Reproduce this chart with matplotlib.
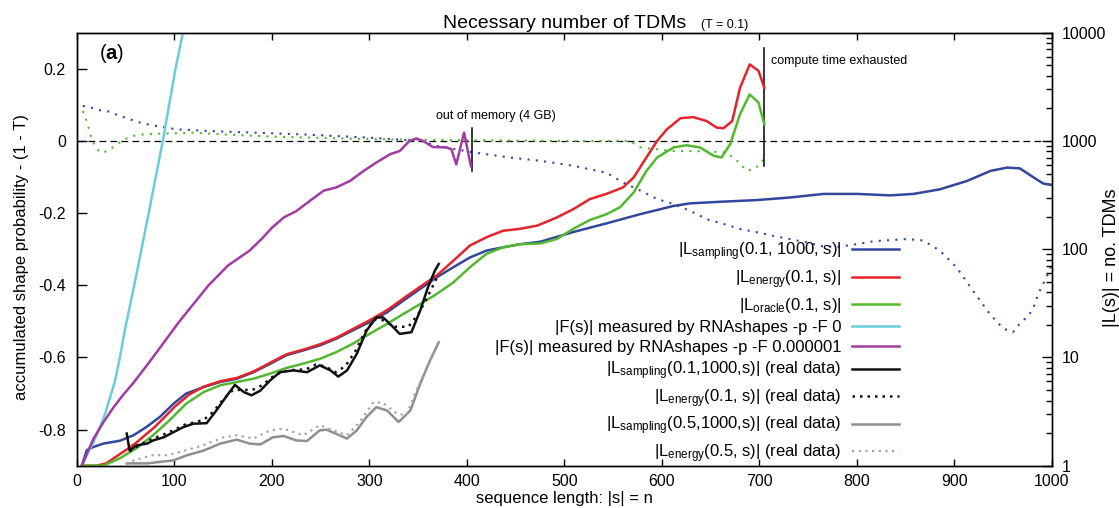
import matplotlib.pyplot as plt
from matplotlib import ticker

plt.rcParams['font.family'] = ['Liberation Sans', 'DejaVu Sans']
plt.rcParams['mathtext.fontset'] = 'custom'
plt.rcParams['mathtext.rm'] = 'Liberation Sans'
plt.rcParams['mathtext.it'] = 'Liberation Sans:italic'
plt.rcParams['mathtext.bf'] = 'Liberation Sans:bold'

# |L_sampling(0.1, 1000, s)|
samp_n = [5, 10, 17, 27, 44, 58, 71, 85, 99, 112, 130, 147, 164, 181, 198, 215, 232, 249, 266, 283,
          300, 318, 335, 352, 369, 386, 403, 420, 437, 454, 475, 509, 543, 578, 612, 629, 663, 697, 731, 766,
          800, 834, 858, 885, 913, 937, 954, 967, 981, 991, 1000]
samp_tdm = [1, 1.39, 1.49, 1.60, 1.70, 1.91, 2.27, 2.82, 3.74, 4.64, 5.33, 5.93, 6.36, 7.30, 8.71, 10.5, 11.6, 12.9, 14.9, 17.8,
            21.2, 26.1, 33.6, 43.0, 55.0, 68.1, 83.8, 97.0, 104, 111, 117, 144, 173, 211, 251, 265, 275, 284, 300, 324,
            324, 314, 324, 357, 427, 529, 567, 558, 461, 404, 392]

# |L_energy(0.1, s)|
energy_n = [5, 20, 30, 40, 50, 60, 70, 80, 90, 100, 115, 130, 147, 164, 181, 198, 215, 232, 249, 266,
            283, 300, 318, 335, 352, 369, 386, 403, 420, 437, 454, 472, 492, 509, 526, 543, 560, 571, 584, 595,
            605, 619, 632, 646, 656, 663, 672, 680, 690, 699, 705]
energy_tdm = [1, 1, 1.05, 1.21, 1.39, 1.61, 1.92, 2.29, 2.82, 3.49, 4.54, 5.37, 6.03, 6.46, 7.41, 8.91, 10.7, 11.8, 13.2, 15.2,
              18.3, 22.0, 27.3, 35.2, 45.0, 57.1, 78.2, 108, 129, 148, 154, 165, 196, 234, 290, 324, 372, 460, 703, 1000,
              1279, 1622, 1660, 1524, 1328, 1308, 1524, 3090, 5093, 4436, 3090]

# |L_oracle(0.1, s)|
oracle_n = [5, 27, 44, 61, 78, 95, 112, 130, 147, 164, 181, 198, 215, 232, 249, 266, 283, 300, 318, 335,
            352, 369, 386, 403, 420, 437, 454, 475, 492, 509, 526, 543, 557, 571, 584, 595, 612, 625, 639, 653,
            661, 670, 680, 690, 699, 705]
oracle_tdm = [1, 1, 1.17, 1.45, 1.91, 2.63, 3.74, 4.79, 5.53, 5.93, 6.36, 7.08, 8.00, 8.77, 9.70, 11.2, 13.4, 16.5, 20.4, 25.3,
              31.1, 38.6, 49.3, 68.1, 90.6, 104, 111, 113, 124, 154, 186, 210, 244, 334, 528, 703, 871, 912, 871, 730,
              703, 933, 1766, 2692, 2256, 1423]

# |F(s)| from RNAshapes -p -F 0
f0_n = [5, 12, 17, 24, 29, 34, 39, 44, 49, 61, 75, 88, 101, 109, 120]
f0_tdm = [1, 1.36, 1.65, 2.33, 3.04, 4.30, 6.07, 10.0, 17.7, 58.5, 251, 1000, 4640, 10300, 34100]

# |F(s)| from RNAshapes -p -F 0.000001
f6_n = [5, 12, 17, 27, 37, 47, 58, 75, 90, 105, 120, 135, 155, 177, 190, 200, 212, 225, 239, 253,
        266, 280, 294, 307, 321, 331, 341, 348, 355, 365, 379, 384, 389, 397, 404]
f6_tdm = [1, 1.41, 1.78, 2.51, 3.41, 4.47, 5.84, 9.26, 14.1, 21.5, 31.6, 46.4, 70.8, 97.0, 126, 158, 196, 225, 280, 347,
          372, 427, 528, 631, 753, 807, 1000, 1055, 1000, 878, 871, 838, 607, 1194, 584]

# real data, T = 0.1
real_samp_n = [51, 54, 61, 72, 78, 89, 99, 109, 119, 133, 143, 154, 162, 171, 179, 188, 198, 208, 222, 236,
               249, 260, 268, 277, 287, 297, 307, 314, 321, 331, 343, 352, 360, 367, 371]
real_samp_tdm = [1.98, 1.38, 1.54, 1.60, 1.71, 1.83, 2.04, 2.27, 2.44, 2.47, 3.24, 4.47, 5.58, 4.79, 4.47, 4.93, 6.12, 7.30, 7.59, 7.30,
                 8.45, 7.59, 6.65, 7.59, 10.8, 17.7, 23.4, 23.4, 20.4, 16.5, 17.1, 27.1, 44.4, 63.1, 73.0]
real_energy_n = [54, 60, 70, 80, 90, 100, 110, 120, 130, 140, 150, 160, 170, 180, 190, 200, 210, 220, 235, 245,
                 255, 265, 275, 285, 295, 305, 315, 325, 340, 350, 360, 369]
real_energy_tdm = [1.36, 1.47, 1.65, 1.81, 1.96, 2.15, 2.38, 2.51, 2.65, 3.16, 4.10, 5.01, 5.01, 5.01, 5.53, 6.56, 7.36, 7.64, 7.76, 8.58,
                   8.26, 7.30, 8.26, 11.2, 17.1, 22.4, 22.0, 19.2, 19.2, 25.1, 36.9, 54.1]

# real data, T = 0.5
real_samp05_n = [51, 72, 99, 113, 130, 147, 164, 177, 188, 201, 212, 225, 236, 249, 256, 277, 287, 297, 307, 318,
                 330, 342, 352, 362, 371]
real_samp05_tdm = [1.05, 1.05, 1.12, 1.25, 1.38, 1.60, 1.74, 1.60, 1.57, 1.83, 1.88, 1.71, 1.69, 2.12, 2.15, 1.78, 2.12, 2.82, 3.47, 3.24,
                   2.53, 3.24, 5.71, 9.33, 13.8]
real_energy05_n = [51, 58, 78, 92, 106, 130, 150, 164, 181, 198, 212, 232, 249, 263, 277, 290, 304, 314, 328, 338,
                   348, 359, 369]
real_energy05_tdm = [1.02, 1.12, 1.25, 1.25, 1.34, 1.55, 1.82, 1.91, 1.78, 2.12, 2.20, 1.91, 2.36, 2.12, 1.91, 2.53, 3.86, 3.80, 3.02, 2.93,
                     4.98, 8.13, 12.5]

# accumulated shape probability - (1 - T)
samp_acc_n = [6, 15, 24, 34, 42, 51, 60, 68, 78, 92, 102, 119, 130, 232, 300, 352, 369, 407, 444, 475,
              509, 543, 560, 578, 595, 612, 629, 646, 663, 680, 697, 714, 731, 748, 766, 783, 800, 817, 834, 851,
              868, 885, 902, 919, 936, 950, 960, 967, 976, 981, 986, 991, 996, 1000]
samp_acc = [0.097, 0.092, 0.085, 0.081, 0.071, 0.063, 0.055, 0.048, 0.043, 0.037, 0.032, 0.030, 0.028, 0.018, 0.009, 0.0, -0.014, -0.032, -0.046, -0.055,
            -0.069, -0.088, -0.115, -0.138, -0.161, -0.175, -0.194, -0.217, -0.230, -0.244, -0.253, -0.263, -0.272, -0.281, -0.293, -0.293, -0.286, -0.278, -0.275, -0.272,
            -0.276, -0.304, -0.350, -0.415, -0.479, -0.52, -0.530, -0.506, -0.484, -0.462, -0.423, -0.396, -0.368, -0.34]
oracle_acc_n = [6, 11, 15, 20, 26, 34, 41, 49, 58, 68, 82, 99, 119, 150, 200, 300, 400, 500, 567, 578,
                595, 612, 629, 646, 666, 677, 687, 694, 701, 705]
oracle_acc = [0.083, 0.046, 0.005, -0.022, -0.034, -0.023, -0.009, 0.005, 0.014, 0.018, 0.020, 0.021, 0.023, 0.018, 0.012, 0.005, 0.002, 0.0, 0.0, -0.018,
              -0.023, -0.028, -0.028, -0.029, -0.032, -0.055, -0.083, -0.078, -0.065, -0.046]

# where the runs stopped
oom_n, oom_span = 405, (0.037, -0.083)
cte_n, cte_span = 705, (0.258, -0.069)

BLUE = '#32479c'
RED = '#e4232a'
GREEN = '#52b82f'
CYAN = '#6ccbdc'
PURPLE = '#a23ba3'
GREY = '#8f8f8f'

fig = plt.figure(figsize=(11.19, 5.08), dpi=100)
ax = fig.add_axes([0.0688, 0.0833, 0.8713, 0.8524])
ax2 = ax.twinx()

# left axis: probabilities, threshold line at 0
ax.axhline(0, color='black', lw=0.9, ls=(0, (5.4, 3.4)))
ax.plot(samp_acc_n, samp_acc, color=BLUE, lw=1.5, ls=(0, (1, 3)))
ax.plot(oracle_acc_n, oracle_acc, color=GREEN, lw=1.5, ls=(0, (1, 3)))
ax.plot([oom_n, oom_n], oom_span, color='black', lw=1.1)
ax.plot([cte_n, cte_n], cte_span, color='black', lw=1.1)
ax.text(430, 0.069, 'out of memory (4 GB)', fontsize=9, ha='center', va='center')
ax.text(712, 0.221, 'compute time exhausted', fontsize=9, ha='left', va='center')
ax.text(0.0229, 0.952, r'($\mathbf{a}$)', transform=ax.transAxes, fontsize=14.5, ha='left', va='center')

# right axis: number of TDMs
lw = 1.8
ax2.plot(samp_n, samp_tdm, color=BLUE, lw=lw, label=r'|L$_{\mathrm{sampling}}$(0.1, 1000, s)|')
ax2.plot(energy_n, energy_tdm, color=RED, lw=lw, label=r'|L$_{\mathrm{energy}}$(0.1, s)|')
ax2.plot(oracle_n, oracle_tdm, color=GREEN, lw=lw, label=r'|L$_{\mathrm{oracle}}$(0.1, s)|')
ax2.plot(f0_n, f0_tdm, color=CYAN, lw=lw, label='|F(s)| measured by RNAshapes -p -F 0')
ax2.plot(f6_n, f6_tdm, color=PURPLE, lw=lw, label='|F(s)| measured by RNAshapes -p -F 0.000001')
ax2.plot(real_samp_n, real_samp_tdm, color='#111111', lw=lw,
         label=r'|L$_{\mathrm{sampling}}$(0.1,1000,s)| (real data)')
ax2.plot(real_energy_n, real_energy_tdm, color='#111111', lw=1.8, ls=(0, (1, 2)),
         label=r'|L$_{\mathrm{energy}}$(0.1, s)| (real data)')
ax2.plot(real_samp05_n, real_samp05_tdm, color=GREY, lw=lw,
         label=r'|L$_{\mathrm{sampling}}$(0.5,1000,s)| (real data)')
ax2.plot(real_energy05_n, real_energy05_tdm, color='#a5a5a5', lw=1.6, ls=(0, (1, 2)),
         label=r'|L$_{\mathrm{energy}}$(0.5, s)| (real data)')

ax.set_xlim(0, 1000)
ax.set_ylim(-0.9, 0.3)
ax2.set_yscale('log')
ax2.set_ylim(1, 10000)

ax.set_xticks(range(0, 1001, 100))
ax.set_yticks([-0.8, -0.6, -0.4, -0.2, 0, 0.2])
ax.yaxis.set_major_formatter(ticker.FuncFormatter(lambda v, p: f'{v:g}'))
ax.tick_params(axis='x', direction='in', top=True, length=5, width=1, labelsize=11.5, pad=6)
ax.tick_params(axis='y', direction='in', right=False, length=7, width=1, labelsize=11.5, pad=8)
ax2.yaxis.set_major_locator(ticker.LogLocator(base=10))
ax2.yaxis.set_minor_locator(ticker.LogLocator(base=10, subs=range(2, 10)))
ax2.yaxis.set_minor_formatter(ticker.NullFormatter())
ax2.yaxis.set_major_formatter(ticker.FuncFormatter(lambda v, p: f'{v:g}'))
ax2.tick_params(axis='y', which='major', direction='in', length=7, width=1, labelsize=11.5, pad=7)
ax2.tick_params(axis='y', which='minor', direction='in', length=4, width=1)
for a in (ax, ax2):
    for s in a.spines.values():
        s.set_linewidth(1.0)

ax.text(-0.0569, 0.482, 'accumulated shape probability - (1 - T)', transform=ax.transAxes,
        rotation=90, ha='center', va='center', fontsize=12)
ax.text(1.0615, 0.48, '|L(s)| = no. TDMs', transform=ax.transAxes,
        rotation=90, ha='center', va='center', fontsize=13)
ax.text(0.5, -0.059, 'sequence length: |s| = n', transform=ax.transAxes,
        ha='center', va='top', fontsize=12)

fig.text(0.5045, 0.9443, 'Necessary number of TDMs', ha='center', va='baseline', fontsize=14)
fig.text(0.6265, 0.9443, '(T = 0.1)', ha='left', va='baseline', fontsize=9)

ax2.legend(loc='center right', bbox_to_anchor=(0.843, 0.261), frameon=False, fontsize=12,
           markerfirst=False, handlelength=2.8, handletextpad=0.64, labelspacing=0.3,
           borderpad=0, borderaxespad=0)

fig.savefig('out.png', dpi=100)
